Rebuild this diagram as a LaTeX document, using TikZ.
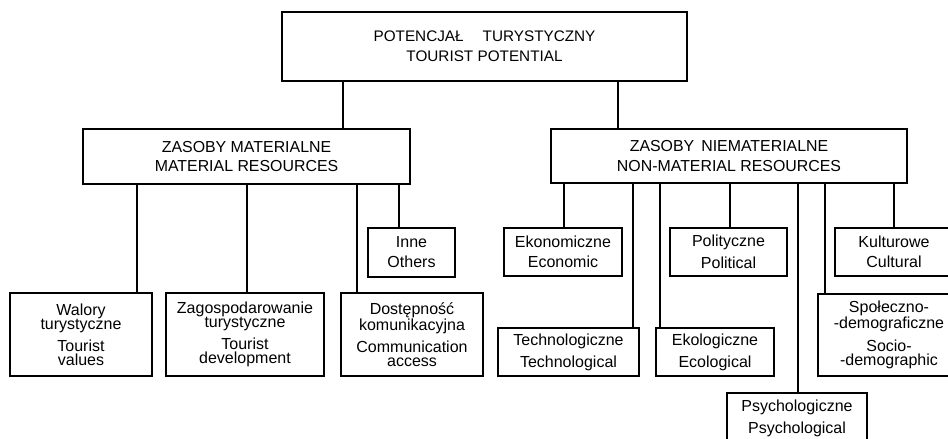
\documentclass[tikz,border=0pt]{standalone}
\usepackage{fontspec}
\setmainfont{Liberation Sans}
\begin{document}
\begin{tikzpicture}[x=1pt,y=-1pt,
  box/.style={draw=black,line width=1.8pt,fill=white,inner sep=0pt,align=center,
    font=\fontsize{16}{13.9}\selectfont},
  headbox/.style={box,font=\fontsize{15.9}{19.5}\selectfont},
  topbox/.style={box,font=\fontsize{15.3}{20}\selectfont},
  link/.style={line width=1.8pt}]
\useasboundingbox (0,0) rectangle (948,439);
\clip (0,0) rectangle (948,439);
\fill[white] (0,0) rectangle (948,439);

% x positions of the vertical connectors
\coordinate (cA) at (343,0);
\coordinate (cB) at (618,0);
\coordinate (m1) at (137,0);
\coordinate (m2) at (247,0);
\coordinate (m3) at (357,0);
\coordinate (m4) at (399,0);
\coordinate (n1) at (564,0);
\coordinate (n2) at (633,0);
\coordinate (n3) at (660,0);
\coordinate (n4) at (730,0);
\coordinate (n5) at (798,0);
\coordinate (n6) at (825,0);
\coordinate (n7) at (894,0);

% root
\node[topbox,minimum width=405,minimum height=69] (root) at (484.5,46.5)
  {POTENCJAŁ\hspace{19pt}TURYSTYCZNY\\TOURIST POTENTIAL};

% second level
\node[headbox,minimum width=327,minimum height=55] (mat) at (246.5,156.5)
  {ZASOBY MATERIALNE\\MATERIAL RESOURCES};
\node[headbox,minimum width=356,minimum height=54] (nmat) at (729,156)
  {ZASOBY\hspace{7pt}NIEMATERIALNE\\NON-MATERIAL RESOURCES};

% material resources
\node[box,minimum width=142,minimum height=83] (walory) at (81,334.5)
  {Walory\\turystyczne\\[6pt]Tourist\\values};
\node[box,minimum width=158,minimum height=83] (zagosp) at (245,334.5)
  {Zagospodarowanie\\turystyczne\\[6pt]Tourist\\development};
\node[box,minimum width=142,minimum height=83] (dostep) at (412,334.5)
  {Dostępność\\komunikacyjna\\[6pt]Communication\\access};
\node[box,minimum width=87,minimum height=49] (inne) at (411.5,252.5)
  {Inne\\[6pt]Others};

% non-material resources
\node[box,minimum width=118,minimum height=48] (ekon) at (563,252)
  {Ekonomiczne\\[6pt]Economic};
\node[box,minimum width=117,minimum height=48] (polit) at (728.5,252)
  {Polityczne\\[6pt]Political};
\node[box,minimum width=118,minimum height=48] (kult) at (894,252)
  {Kulturowe\\[6pt]Cultural};
\node[box,minimum width=141,minimum height=48] (techn) at (568.5,352)
  {Technologiczne\\[6pt]Technological};
\node[box,minimum width=118,minimum height=48] (ekol) at (715,352)
  {Ekologiczne\\[6pt]Ecological};
\node[box,minimum width=142,minimum height=82] (spol) at (889,335)
  {Społeczno-\\-demograficzne\\[7pt]Socio-\\-demographic};
\node[box,minimum width=140,minimum height=50] (psych) at (797,418)
  {Psychologiczne\\[6pt]Psychological};

% connectors
\draw[link] (root.south -| cA) -- (mat.north -| cA);
\draw[link] (root.south -| cB) -- (nmat.north -| cB);

\draw[link] (mat.south -| m1) -- (walory.north -| m1);
\draw[link] (mat.south -| m2) -- (zagosp.north -| m2);
\draw[link] (mat.south -| m3) -- (dostep.north -| m3);
\draw[link] (mat.south -| m4) -- (inne.north -| m4);

\draw[link] (nmat.south -| n1) -- (ekon.north -| n1);
\draw[link] (nmat.south -| n2) -- (techn.north -| n2);
\draw[link] (nmat.south -| n3) -- (ekol.north -| n3);
\draw[link] (nmat.south -| n4) -- (polit.north -| n4);
\draw[link] (nmat.south -| n5) -- (psych.north -| n5);
\draw[link] (nmat.south -| n6) -- (spol.north -| n6);
\draw[link] (nmat.south -| n7) -- (kult.north -| n7);
\end{tikzpicture}
\end{document}
